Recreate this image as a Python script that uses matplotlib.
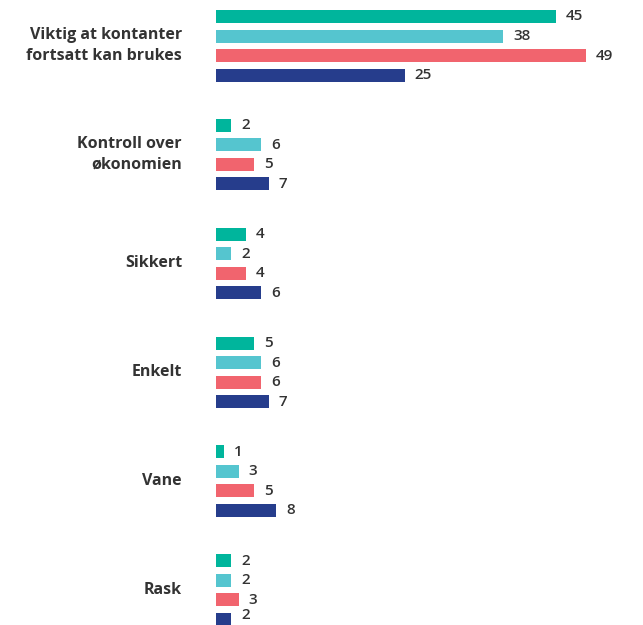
import matplotlib
matplotlib.use("Agg")
import matplotlib.pyplot as plt

categories = [
    "Viktig at kontanter\nfortsatt kan brukes",
    "Kontroll over\nøkonomien",
    "Sikkert",
    "Enkelt",
    "Vane",
    "Rask",
]
series_a = [45, 2, 4, 5, 1, 2]
series_b = [38, 6, 2, 6, 3, 2]
series_c = [49, 5, 4, 6, 5, 3]
series_d = [25, 7, 6, 7, 8, 2]
series = [series_a, series_b, series_c, series_d]
colors = ["#00b59c", "#55c5cf", "#f1646e", "#263d8c"]

W, H = 643, 625
fig = plt.figure(figsize=(W / 100, H / 100), dpi=100)
ax = fig.add_axes([0, 0, 1, 1])

px_per_unit = 7.55
x0_px = 216
ax.set_xlim(-x0_px / px_per_unit, (W - x0_px) / px_per_unit)

group_step = 108.85
first_center = 45.75
ax.set_ylim((H - first_center) / group_step, -first_center / group_step)

bar_step = 19.5 / group_step
bar_h = 13 / group_step
offsets = [-1.5 * bar_step, -0.5 * bar_step, 0.5 * bar_step, 1.5 * bar_step]

# keep value labels clear of the bottom edge
label_y_max = (H - 10 - first_center) / group_step

text_color = "#333333"
for gi, cat in enumerate(categories):
    for si, vals in enumerate(series):
        y = gi + offsets[si]
        v = vals[gi]
        ax.barh(y, v, height=bar_h, color=colors[si], left=0)
        ax.text(v + 10 / px_per_unit, min(y, label_y_max), str(v),
                ha="left", va="center",
                fontsize=11, fontweight="semibold", color=text_color,
                family="Open Sans")
    ax.text(-34 / px_per_unit, gi, cat, ha="right", va="center",
            fontsize=11.5, fontweight="bold", color=text_color,
            family="Open Sans", linespacing=1.4)

ax.axis("off")
fig.savefig("out.png", dpi=100)
